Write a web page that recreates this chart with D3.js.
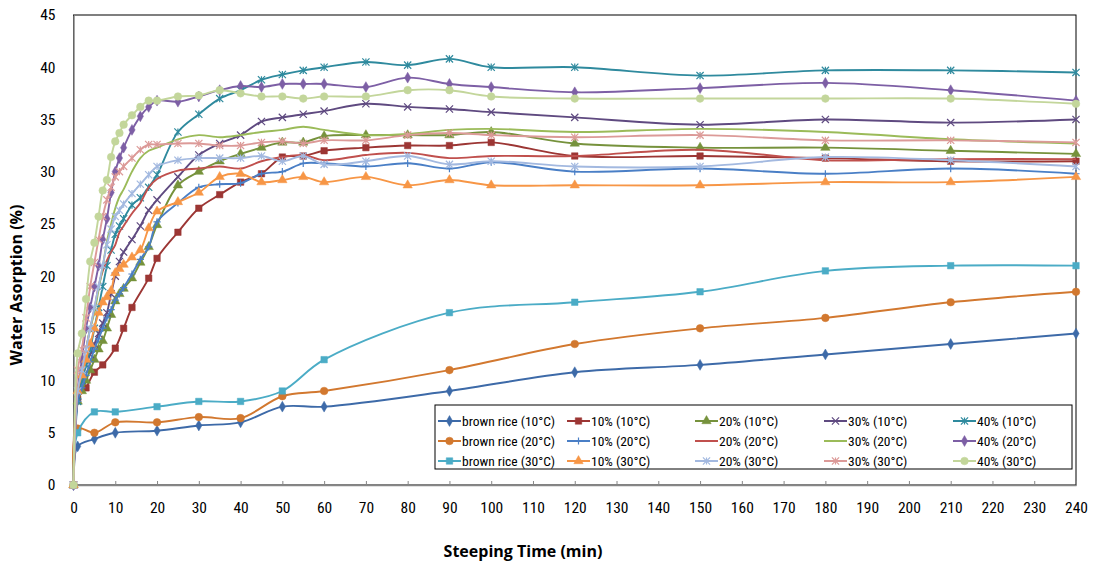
<!DOCTYPE html>
<html>
<head>
<meta charset="utf-8">
<script src="https://cdn.jsdelivr.net/npm/d3@7"></script>
<style>
  body { margin: 0; background: #fff; }
  text { font-family: "Liberation Sans Narrow", "Roboto Condensed", "Noto Sans", sans-serif; }
</style>
</head>
<body>
<svg id="chart" width="1093" height="565"></svg>
<script>
// sampling times (min)
var riceTimes = [0, 1, 5, 10, 20, 30, 40, 50, 60, 90, 120, 150, 180, 210, 240];
var mixTimes = [0, 1, 2, 3, 4, 5, 6, 7, 8, 9, 10, 11, 12, 14, 16, 18, 20, 25, 30, 35, 40, 45, 50, 55, 60, 70, 80, 90, 100, 120, 150, 180, 210, 240];

// water absorption (%), null = no point
var rice10 = [0, 3.7, 4.4, 5.0, 5.2, 5.7, 6.0, 7.5, 7.5, 9.0, 10.8, 11.5, 12.5, 13.5, 14.5];
var rice20 = [0, 5.4, 5.0, 6.0, 6.0, 6.5, 6.4, 8.5, 9.0, 11.0, 13.5, 15.0, 16.0, 17.5, 18.5];
var rice30 = [0, 5.0, 7.0, 7.0, 7.5, 8.0, 8.0, 9.0, 12.0, 16.5, 17.5, 18.5, 20.5, 21.0, 21.0];

var p10_10 = [0, 8.2, null, 9.3, null, 10.8, null, 11.5, null, null, 13.1, null, 15.0, 17.0, null, 19.8, 21.7, 24.2, 26.5, 27.8, 29.0, 29.8, 31.4, 31.5, 32.0, 32.3, 32.5, 32.5, 32.8, 31.5, 31.5, 31.3, 31.0, 31.0];
var p20_10 = [0, 8, 9, 10, 11, 12, 13, 13.8, 15, 16.3, 17.6, 18.3, 18.8, 19.8, 21.3, 22.8, 24.9, 28.7, 30.0, 31.0, 31.7, 32.3, 32.8, 32.8, 33.4, 33.5, 33.5, 33.5, 33.8, 32.7, 32.3, 32.3, 32.0, 31.7];
var p30_10 = [0, 8.5, 10, 11.5, 12.5, 13.5, 14.5, 15.5, 16.5, 18.3, 20, 21.4, 22.3, 23.5, 24.8, 26.3, 27.3, 29.5, 31.6, 32.7, 33.5, 34.8, 35.2, 35.5, 35.8, 36.5, 36.2, 36.0, 35.7, 35.2, 34.5, 35.0, 34.7, 35.0];
var p40_10 = [0, 8, 10, 11.5, 13, 15, 17, 19, 21, 22.5, 24, 24.8, 25.5, 26.8, 27.5, 28.5, 29.7, 33.8, 35.5, 37.0, 37.8, 38.8, 39.3, 39.7, 40.0, 40.5, 40.2, 40.8, 40.0, 40.0, 39.2, 39.7, 39.7, 39.5];
var p10_20 = [0, 8, 9.3, 10.5, 11.8, 13, 14, 15, 16, 16.8, 17.7, 18.3, 18.9, 20.2, 21.6, 22.8, 25.2, 27.0, 28.5, 28.8, 28.9, 29.8, 30.0, 30.8, 30.8, 30.5, 30.8, 30.3, 30.9, 30.0, 30.3, 29.8, 30.3, 29.8];
var p20_20 = [0, 9, 11, 13, 15, 16.8, 19, 20.5, 21.5, 22.3, 23, 24.2, 24.8, 26, 27, 28.5, 29.3, 30.1, 30.3, 30.5, 30.3, 31.0, 31.4, 31.6, 31.1, 31.6, 31.8, 31.3, 31.5, 31.5, 32.1, 31.1, 31.2, 31.2];
var p30_20 = [0, 9, 11, 13, 15, 16.5, 18.7, 20.9, 23.3, 25, 26.5, 27.6, 28.3, 30, 31.3, 32, 32.3, 33.1, 33.5, 33.3, 33.5, 33.8, 34.0, 34.3, 34.0, 33.5, 33.6, 34.0, 34.1, 33.8, 34.1, 33.8, 33.1, 32.7];
var p40_20 = [0, 9, 12, 15, 17, 19, 21, 23.5, 25.5, 28, 30, 31.3, 32.3, 34, 35.3, 36.2, 36.8, 36.7, 37.2, 37.8, 38.2, 38.1, 38.4, 38.4, 38.4, 38.1, 39.0, 38.4, 38.1, 37.6, 38.0, 38.5, 37.8, 36.8];
var p10_30 = [0, 9, 10.5, 12, 13.5, 15, 16.5, 17.5, 18, 18.6, 20.3, 20.7, 21.1, 21.8, 22.5, 24.6, 26.2, 27.1, 28.0, 29.5, 29.8, 29.0, 29.2, 29.5, 29.0, 29.5, 28.7, 29.2, 28.7, 28.7, 28.7, 29.0, 29.0, 29.5];
var p20_30 = [0, 9, 11, 13, 15, 17, 19, 21, 23, 24.5, 25.7, 26.3, 26.9, 27.9, 28.8, 29.7, 30.5, 31.1, 31.3, 31.3, 31.3, 31.5, 31.0, 31.5, 30.7, 31.0, 31.5, 30.7, 31.0, 30.5, 30.5, 31.4, 31.1, 30.5];
var p30_30 = [0, 11, 13, 16, 19, 21.3, 23.5, 25.7, 27.3, 28.5, 29.5, 30, 30.5, 31.3, 32.1, 32.6, 32.6, 32.7, 32.7, 32.5, 32.5, 32.8, 32.9, 32.7, 33.0, 33.0, 33.5, 33.7, 33.5, 33.3, 33.5, 33.0, 33.0, 32.8];
var p40_30 = [0, 12.6, 14.5, 17.8, 21.4, 23.2, 25.7, 28.2, 29.2, 31.4, 32.9, 33.7, 34.5, 35.4, 36.2, 36.8, 36.8, 37.2, 37.3, 37.8, 37.5, 37.2, 37.2, 37.0, 37.2, 37.2, 37.8, 37.8, 37.2, 37.0, 37.0, 37.0, 37.0, 36.5];

var xTicks = d3.range(0, 241, 10);
var yTicks = d3.range(0, 46, 5);

// legend order = drawing order (rows of five)
var series = [
  { name: "brown rice (10°C)", t: riceTimes, v: rice10, color: "#3d6aa8", mark: "diamond" },
  { name: "10% (10°C)", t: mixTimes, v: p10_10, color: "#9c3634", mark: "square" },
  { name: "20% (10°C)", t: mixTimes, v: p20_10, color: "#76923c", mark: "triangle" },
  { name: "30% (10°C)", t: mixTimes, v: p30_10, color: "#5f4a80", mark: "x" },
  { name: "40% (10°C)", t: mixTimes, v: p40_10, color: "#2f8a9e", mark: "star" },
  { name: "brown rice (20°C)", t: riceTimes, v: rice20, color: "#d2782f", mark: "circle" },
  { name: "10% (20°C)", t: mixTimes, v: p10_20, color: "#4a7fc6", mark: "plus" },
  { name: "20% (20°C)", t: mixTimes, v: p20_20, color: "#c0504d", mark: "none" },
  { name: "30% (20°C)", t: mixTimes, v: p30_20, color: "#9bbb59", mark: "none" },
  { name: "40% (20°C)", t: mixTimes, v: p40_20, color: "#7d5fa5", mark: "diamond" },
  { name: "brown rice (30°C)", t: riceTimes, v: rice30, color: "#4bacc6", mark: "square" },
  { name: "10% (30°C)", t: mixTimes, v: p10_30, color: "#f79646", mark: "triangle" },
  { name: "20% (30°C)", t: mixTimes, v: p20_30, color: "#a3b9e0", mark: "star" },
  { name: "30% (30°C)", t: mixTimes, v: p30_30, color: "#dc9a98", mark: "star" },
  { name: "40% (30°C)", t: mixTimes, v: p40_30, color: "#c3d69b", mark: "circle" }
];

var svg = d3.select("#chart");
var plotLeft = 73.5, plotRight = 1076, plotTop = 15, plotBottom = 485;

var x = d3.scaleLinear().domain([0, 240]).range([plotLeft, plotRight]);
var y = d3.scaleLinear().domain([0, 45]).range([plotBottom, plotTop]);

// plot area border
svg.append("rect")
  .attr("x", plotLeft).attr("y", plotTop)
  .attr("width", plotRight - plotLeft).attr("height", plotBottom - plotTop)
  .attr("fill", "none").attr("stroke", "#000").attr("stroke-width", 1);

// axes
var xAxis = svg.append("g")
  .attr("transform", "translate(0," + plotBottom + ")")
  .call(d3.axisBottom(x).tickValues(xTicks).tickSizeInner(-4).tickSizeOuter(0).tickPadding(17));
var yAxis = svg.append("g")
  .attr("transform", "translate(" + plotLeft + ",0)")
  .call(d3.axisLeft(y).tickValues(yTicks).tickSize(0).tickPadding(18));
[xAxis, yAxis].forEach(function(g) {
  g.select(".domain").attr("stroke", "#868686").attr("stroke-width", 1.5);
  g.selectAll(".tick line").attr("stroke", "#868686");
  g.selectAll(".tick text").attr("fill", "#000").style("font-size", "15.5px");
});

// axis titles (Excel centres the value-axis title on the whole chart height)
svg.append("text")
  .attr("transform", "translate(22,285) rotate(-90)")
  .attr("text-anchor", "middle")
  .style("font-family", "'Open Sans', 'Noto Sans', sans-serif")
  .style("font-weight", "bold").style("font-size", "16px")
  .text("Water Asorption (%)");
svg.append("text")
  .attr("x", 523).attr("y", 557)
  .attr("text-anchor", "middle")
  .style("font-family", "'Open Sans', 'Noto Sans', sans-serif")
  .style("font-weight", "bold").style("font-size", "16px")
  .text("Steeping Time (min)");

function markerPath(type) {
  var r = 3.6;
  if (type === "diamond") return d3.symbol(d3.symbolDiamond, 34)();
  if (type === "square") return d3.symbol(d3.symbolSquare, 42)();
  if (type === "triangle") return d3.symbol(d3.symbolTriangle, 38)();
  if (type === "circle") return d3.symbol(d3.symbolCircle, 46)();
  if (type === "x") return "M" + -r + "," + -r + "L" + r + "," + r + "M" + -r + "," + r + "L" + r + "," + -r;
  if (type === "plus") return "M" + -r + ",0L" + r + ",0M0," + -r + "L0," + r;
  if (type === "star") return "M" + -r + "," + -r + "L" + r + "," + r + "M" + -r + "," + r + "L" + r + "," + -r + "M0," + -r + "L0," + r;
  return null;
}
function isStroked(type) { return type === "x" || type === "plus" || type === "star"; }

function drawMarker(g, s, cx, cy) {
  var p = markerPath(s.mark);
  if (!p) return;
  g.append("path")
    .attr("d", p)
    .attr("transform", "translate(" + cx + "," + cy + ")")
    .attr("fill", isStroked(s.mark) ? "none" : s.color)
    .attr("stroke", s.color)
    .attr("stroke-width", isStroked(s.mark) ? 1.2 : 0.5);
}

var line = d3.line()
  .x(function(d) { return x(d.t); })
  .y(function(d) { return y(d.v); })
  .curve(d3.curveCatmullRom.alpha(0.5));

var plot = svg.append("g");
series.forEach(function(s) {
  var pts = s.t.map(function(t, i) { return { t: t, v: s.v[i] }; })
    .filter(function(d) { return d.v !== null; });
  var g = plot.append("g");
  g.append("path")
    .datum(pts)
    .attr("d", line)
    .attr("fill", "none")
    .attr("stroke", s.color)
    .attr("stroke-width", 1.9);
  pts.forEach(function(d) { drawMarker(g, s, x(d.t), y(d.v)); });
});

// legend
var lg = svg.append("g");
lg.append("rect")
  .attr("x", 435).attr("y", 405).attr("width", 637).attr("height", 64)
  .attr("fill", "#fff").attr("stroke", "#000").attr("stroke-width", 1);
var colX = [438, 567, 695, 824, 953];
var rowY = [421, 441, 461];
series.forEach(function(s, i) {
  var cx = colX[i % 5], cy = rowY[Math.floor(i / 5)];
  var item = lg.append("g");
  item.append("line")
    .attr("x1", cx).attr("x2", cx + 23).attr("y1", cy).attr("y2", cy)
    .attr("stroke", s.color).attr("stroke-width", 2);
  drawMarker(item, s, cx + 11.5, cy);
  item.append("text")
    .attr("x", cx + 24).attr("y", cy + 5)
    .style("font-size", "13.5px")
    .text(s.name);
});
</script>
</body>
</html>
